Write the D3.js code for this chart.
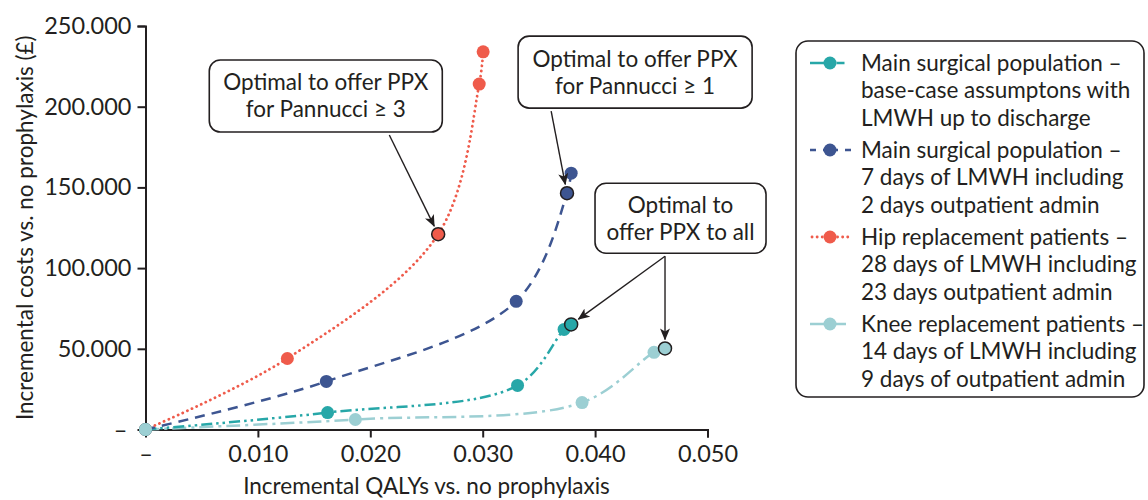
<!DOCTYPE html>
<html><head><meta charset="utf-8">
<script src="https://cdn.jsdelivr.net/npm/d3@7"></script>
<style>
body{margin:0;background:#fff;}
text{font-family:Lato,"Open Sans",sans-serif;fill:#231f20;}
</style></head>
<body><svg id="c" width="1148" height="500"></svg>
<script>
// ---- data ----
const seriesNames = [
  ["Main surgical population –","base-case assumptons with","LMWH up to discharge"],
  ["Main surgical population –","7 days of LMWH including","2 days outpatient admin"],
  ["Hip replacement patients –","28 days of LMWH including","23 days outpatient admin"],
  ["Knee replacement patients –","14 days of LMWH including","9 days of outpatient admin"]
];
const mainQ  = [0, 0.0162, 0.0331, 0.03724, 0.03787];
const mainC  = [0, 10500, 27300, 62000, 65100];
const longQ  = [0, 0.01609, 0.03298, 0.0375, 0.03787];
const longC  = [0, 29800, 79400, 146400, 158800];
const hipQ   = [0, 0.01262, 0.02604, 0.02969, 0.03004];
const hipC   = [0, 44000, 121000, 214000, 234000];
const kneeQ  = [0, 0.01867, 0.03884, 0.04524, 0.04622];
const kneeC  = [0, 6200, 16700, 47800, 50200];
const highlighted = [4, 3, 2, 4];   // index of optimal point in each series
const xTicks = [0, 0.01, 0.02, 0.03, 0.04, 0.05];
const yTicks = [0, 50000, 100000, 150000, 200000, 250000];
const annotations = [
  {lines:["Optimal to offer PPX","for Pannucci ≥ 3"], cx:0.01604, cy:206600, w:233, h:72, sx:0.02169, targets:[[2,2]]},
  {lines:["Optimal to offer PPX","for Pannucci ≥ 1"], cx:0.04356, cy:221400, w:234, h:72, sx:0.03609, targets:[[1,3]]},
  {lines:["Optimal to","offer PPX to all"], cx:0.04760, cy:130900, w:171, h:70, sx:0.04622, targets:[[0,4],[3,4]]}
];

// ---- styles ----
const colors = ["#27a7a8", "#3d5591", "#ef5b4b", "#9ccfd3"];
const dashes = ["11 4 2.5 4 2.5 4", "10 7", "0.1 5", "14 5 3 5"];
const caps = ["butt","butt","round","butt"];
const widths = [2.5, 2.5, 2.8, 2.5];
const qs = [mainQ, longQ, hipQ, kneeQ], cs = [mainC, longC, hipC, kneeC];
const FS = 22.5;

const svg = d3.select("#c");
const x = d3.scaleLinear().domain([0, 0.05]).range([145.5, 707.5]);
const y = d3.scaleLinear().domain([0, 250000]).range([429.5, 26]);

const yFmt = d => d === 0 ? "–" : d3.format(",")(d).replace(/,/g, ".");
const xFmt = d => d === 0 ? "–" : d3.format(".3f")(d);

// axes
const gx = svg.append("g").attr("transform", `translate(0,${y(0)})`)
  .call(d3.axisBottom(x).tickValues(xTicks).tickFormat(xFmt).tickSizeOuter(0).tickSize(8).tickPadding(10));
const gy = svg.append("g").attr("transform", `translate(${x(0)},0)`)
  .call(d3.axisLeft(y).tickValues(yTicks).tickFormat(yFmt).tickSizeOuter(0).tickSize(8).tickPadding(6));
[gx, gy].forEach(g => {
  g.selectAll("path,line").attr("stroke", "#231f20").attr("stroke-width", 2);
  g.selectAll("text").attr("font-size", 23.5).attr("fill", "#231f20").style("font-family", "Lato");
});
gx.selectAll(".tick line").filter(d => d === 0).remove();
gy.selectAll(".tick line").filter(d => d === 0).remove();
gx.selectAll("text").attr("dy", "0.6em");
gy.selectAll("text").filter(d => d === 0).attr("dx", "-4");

svg.append("text").attr("x", (x(0)+x(0.05))/2).attr("y", 494).attr("text-anchor", "middle")
  .attr("font-size", FS).text("Incremental QALYs vs. no prophylaxis");
svg.append("text").attr("transform", `translate(33,${(y(0)+y(250000))/2}) rotate(-90)`)
  .attr("text-anchor", "middle").attr("font-size", FS).text("Incremental costs vs. no prophylaxis (£)");

// lines
const line = d3.line().x(d => x(d[0])).y(d => y(d[1])).curve(d3.curveCatmullRom.alpha(0.5));
const drawOrder = [3, 0, 1, 2];
drawOrder.forEach(i => {
  const pts = qs[i].map((q, k) => [q, cs[i][k]]);
  svg.append("path").datum(pts).attr("d", line).attr("fill", "none")
    .attr("stroke", colors[i]).attr("stroke-width", widths[i])
    .attr("stroke-dasharray", dashes[i]).attr("stroke-linecap", caps[i]);
});
[1, 2, 0, 3].forEach(i => {
  const pts = qs[i].map((q, k) => [q, cs[i][k], k]);
  svg.append("g").selectAll("circle").data(pts).join("circle")
    .attr("cx", d => x(d[0])).attr("cy", d => y(d[1])).attr("r", 6.5)
    .attr("fill", colors[i])
    .attr("stroke", d => d[2] === highlighted[i] ? "#231f20" : "none")
    .attr("stroke-width", 1.5);
});

// arrow marker
svg.append("defs").append("marker").attr("id", "arr").attr("viewBox", "0 0 12 10")
  .attr("refX", 11).attr("refY", 5).attr("markerWidth", 12).attr("markerHeight", 10)
  .attr("markerUnits", "userSpaceOnUse").attr("orient", "auto")
  .append("path").attr("d", "M0,0 L12,5 L0,10 L3,5 Z").attr("fill", "#231f20");

// annotations
annotations.forEach(a => {
  const cx = x(a.cx), cy = y(a.cy);
  const g = svg.append("g");
  g.append("rect").attr("x", cx - a.w/2).attr("y", cy - a.h/2).attr("width", a.w).attr("height", a.h)
    .attr("rx", 11).attr("fill", "#fff").attr("stroke", "#231f20").attr("stroke-width", 1.6);
  a.lines.forEach((t, k) => {
    g.append("text").attr("x", cx).attr("y", cy + (k - (a.lines.length-1)/2) * 27)
      .attr("dy", "0.35em").attr("text-anchor", "middle").attr("font-size", FS).text(t);
  });
  const sx = x(a.sx), sy = cy + a.h/2 + 3;
  a.targets.forEach(([si, pi]) => {
    const tx = x(qs[si][pi]), ty = y(cs[si][pi]);
    const dx = tx - sx, dy = ty - sy, len = Math.hypot(dx, dy), r = 9;
    g.append("line").attr("x1", sx).attr("y1", sy)
      .attr("x2", tx - dx/len*r).attr("y2", ty - dy/len*r)
      .attr("stroke", "#231f20").attr("stroke-width", 1.4).attr("marker-end", "url(#arr)");
  });
});

// legend
const lg = svg.append("g");
lg.append("rect").attr("x", 796).attr("y", 41).attr("width", 348).attr("height", 356)
  .attr("rx", 12).attr("fill", "#fff").attr("stroke", "#231f20").attr("stroke-width", 1.6);
seriesNames.forEach((lines, i) => {
  const top = 63 + i * 87;
  lg.append("line").attr("x1", 810).attr("x2", 851).attr("y1", top).attr("y2", top)
    .attr("stroke", colors[i]).attr("stroke-width", widths[i])
    .attr("stroke-dasharray", i === 0 ? "16 4 2.5 4 8" : i === 1 ? "6 7 15 7 6" : i === 2 ? "0.1 5" : "16 6 14")
    .attr("stroke-linecap", caps[i]).attr("stroke-dashoffset", i === 2 ? -2 : 0);
  lg.append("circle").attr("cx", 830).attr("cy", top).attr("r", 6.5).attr("fill", colors[i]);
  lines.forEach((t, k) => {
    lg.append("text").attr("x", 861).attr("y", top + k * 27.5).attr("dy", "0.35em")
      .attr("font-size", FS).text(t);
  });
});
</script></body></html>
